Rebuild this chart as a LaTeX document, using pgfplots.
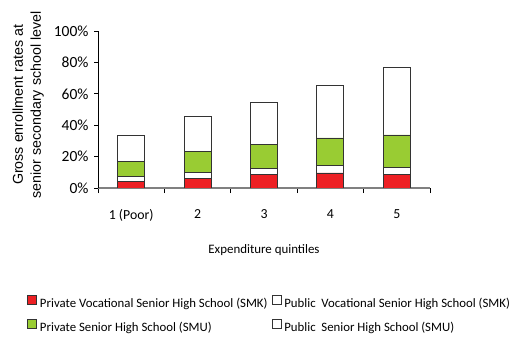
\documentclass[border=0pt]{standalone}
\usepackage{fontspec}
\setmainfont{Carlito}
\newfontfamily\arialfont{Liberation Sans}
\usepackage{pgfplots}
\pgfplotsset{compat=1.18}
\definecolor{barred}{RGB}{237,32,36}
\definecolor{bargreen}{RGB}{153,204,51}
\definecolor{axgray}{RGB}{128,128,128}
\begin{document}
\begin{tikzpicture}
\useasboundingbox (0,0) rectangle (516pt,337pt);
\begin{axis}[
  at={(98pt,149pt)}, anchor=south west,
  scale only axis, width=332pt, height=157pt,
  xmin=0.5, xmax=5.5, ymin=0, ymax=100,
  ybar stacked, bar width=27pt,
  axis x line=bottom, axis y line=left,
  axis line style={-},
  x axis line style={axgray, line width=1.5pt},
  y axis line style={black, line width=0.8pt},
  tick align=outside,
  major tick length=4pt, minor tick length=5pt,
  xtick={1,2,3,4,5},
  xticklabels={1 (Poor),2,3,4,5},
  minor xtick={0.5,1.5,2.5,3.5,4.5,5.5},
  major x tick style={draw=none},
  minor x tick style={black, line width=0.8pt},
  ytick={0,20,40,60,80,100},
  yticklabel={\pgfmathprintnumber{\tick}\%},
  y tick style={black, line width=0.8pt},
  /pgf/number format/assume math mode=true,
  xticklabel style={yshift=-14pt, font=\fontsize{13.8}{16}\selectfont},
  yticklabel style={xshift=-2pt, font=\fontsize{15.5}{18}\selectfont},
  xlabel={Expenditure quintiles},
  xlabel style={at={(axis description cs:0.5,0)}, anchor=center, yshift=-62pt, font=\fontsize{12.9}{15}\selectfont},
  ylabel={Gross enrollment rates at\\senior secondary school level},
  ylabel style={at={(axis description cs:-0.21,0.529)}, anchor=center, align=center, font=\arialfont\fontsize{14.25}{18}\selectfont},
  every axis plot/.append style={draw=black!80, line width=0.8pt},
  legend columns=2,
  legend cell align=left,
  legend image code/.code={\draw[#1] (0pt,-0.5pt) rectangle (9pt,8.5pt);},
  legend style={at={(axis description cs:-0.2139,-0.682)}, anchor=north west,
    draw=none, fill=none, inner sep=0pt, row sep=9pt, column sep=0pt,
    font=\fontsize{12.8}{15}\selectfont,
    nodes={inner xsep=3pt, inner ysep=0pt, text height=9pt, text depth=3pt},
    /tikz/every even column/.append style={column sep=1pt}},
]
\addplot[fill=barred] coordinates {(1,4.3) (2,6.0) (3,8.8) (4,9.6) (5,8.8)};
\addlegendentry{Private Vocational Senior High School (SMK)}
\addplot[fill=white] coordinates {(1,3.1) (2,3.8) (3,3.6) (4,4.7) (5,4.2)};
\addlegendentry{Public\ \ Vocational Senior High School (SMK)}
\addplot[fill=bargreen] coordinates {(1,9.4) (2,13.4) (3,15.3) (4,17.6) (5,20.8)};
\addlegendentry{Private Senior High School (SMU)}
\addplot[fill=white] coordinates {(1,17.0) (2,22.2) (3,26.8) (4,33.2) (5,43.0)};
\addlegendentry{Public\ \ Senior High School (SMU)}
\end{axis}
\end{tikzpicture}
\end{document}
